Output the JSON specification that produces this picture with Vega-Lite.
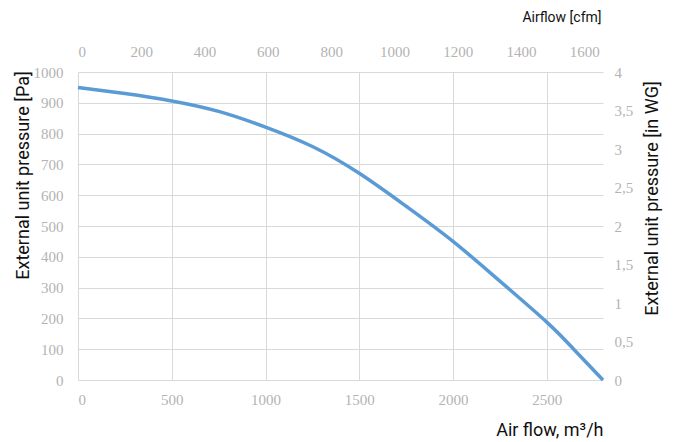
{
  "$schema": "https://vega.github.io/schema/vega-lite/v6.json",
  "autosize": "none",
  "width": 525,
  "height": 308,
  "padding": {"left": 78, "top": 72, "right": 72, "bottom": 62},
  "background": "white",
  "config": {
    "view": {"stroke": null},
    "axis": {
      "labelFont": "Liberation Sans Narrow",
      "labelFontSize": 15,
      "labelColor": "#b3b3b3",
      "titleFont": "Roboto",
      "titleFontWeight": "normal",
      "titleColor": "#111111",
      "gridColor": "#d9d9d9",
      "gridWidth": 1,
      "gridOpacity": 1,
      "domain": false,
      "ticks": false,
      "tickSize": 0
    }
  },
  "datasets": {
    "curve": [
      {"airflow_m3h": 0, "pressure_pa": 950},
      {"airflow_m3h": 250, "pressure_pa": 930},
      {"airflow_m3h": 500, "pressure_pa": 906},
      {"airflow_m3h": 750, "pressure_pa": 872},
      {"airflow_m3h": 1000, "pressure_pa": 821},
      {"airflow_m3h": 1250, "pressure_pa": 758},
      {"airflow_m3h": 1500, "pressure_pa": 671},
      {"airflow_m3h": 1750, "pressure_pa": 564},
      {"airflow_m3h": 2000, "pressure_pa": 450},
      {"airflow_m3h": 2250, "pressure_pa": 321},
      {"airflow_m3h": 2500, "pressure_pa": 188},
      {"airflow_m3h": 2650, "pressure_pa": 96},
      {"airflow_m3h": 2800, "pressure_pa": 0}
    ],
    "imperial": [
      {"airflow_cfm": 0, "pressure_inwg": 0},
      {"airflow_cfm": 1659, "pressure_inwg": 4}
    ]
  },
  "layer": [
    {
      "data": {"name": "curve"},
      "mark": {"type": "line", "color": "#5b9bd5", "strokeWidth": 3.5, "interpolate": "natural", "clip": false},
      "encoding": {
        "x": {
          "field": "airflow_m3h", "type": "quantitative",
          "scale": {"domain": [0, 2800], "nice": false, "zero": false},
          "axis": {
            "orient": "bottom",
            "values": [0, 500, 1000, 1500, 2000, 2500],
            "format": "d",
            "grid": true,
            "labelPadding": 12,
            "title": "Air flow, m³/h",
            "titleFontSize": 18,
            "titleAnchor": "end",
            "titleAlign": "right",
            "titleBaseline": "middle",
            "titleX": 525,
            "titleY": 50
          }
        },
        "y": {
          "field": "pressure_pa", "type": "quantitative",
          "scale": {"domain": [0, 1000], "nice": false},
          "axis": {
            "orient": "left",
            "values": [0, 100, 200, 300, 400, 500, 600, 700, 800, 900, 1000],
            "format": "d",
            "grid": true,
            "labelPadding": 15,
            "title": "External unit pressure [Pa]",
            "titleFontSize": 18,
            "titleAngle": 270,
            "titleAlign": "center",
            "titleBaseline": "middle",
            "titleX": -55,
            "titleY": 103
          }
        }
      }
    },
    {
      "data": {"name": "imperial"},
      "mark": {"type": "point", "opacity": 0},
      "encoding": {
        "x": {
          "field": "airflow_cfm", "type": "quantitative",
          "scale": {"domain": [0, 1659], "nice": false, "zero": false},
          "axis": {
            "orient": "top",
            "values": [0, 200, 400, 600, 800, 1000, 1200, 1400, 1600],
            "format": "d",
            "grid": false,
            "labelPadding": 13,
            "title": "Airflow [cfm]",
            "titleFontSize": 14,
            "titleAlign": "right",
            "titleBaseline": "middle",
            "titleX": 523,
            "titleY": -55
          }
        },
        "y": {
          "field": "pressure_inwg", "type": "quantitative",
          "scale": {"domain": [0, 4], "nice": false},
          "axis": {
            "orient": "right",
            "values": [0, 0.5, 1, 1.5, 2, 2.5, 3, 3.5, 4],
            "labelExpr": "replace(toString(datum.value), '.', ',')",
            "grid": false,
            "labelPadding": 11,
            "title": "External unit pressure [in WG]",
            "titleFontSize": 18,
            "titleAngle": 270,
            "titleAlign": "center",
            "titleBaseline": "middle",
            "titleX": 49,
            "titleY": 126
          }
        }
      }
    }
  ],
  "resolve": {
    "scale": {"x": "independent", "y": "independent"},
    "axis": {"x": "independent", "y": "independent"}
  }
}
